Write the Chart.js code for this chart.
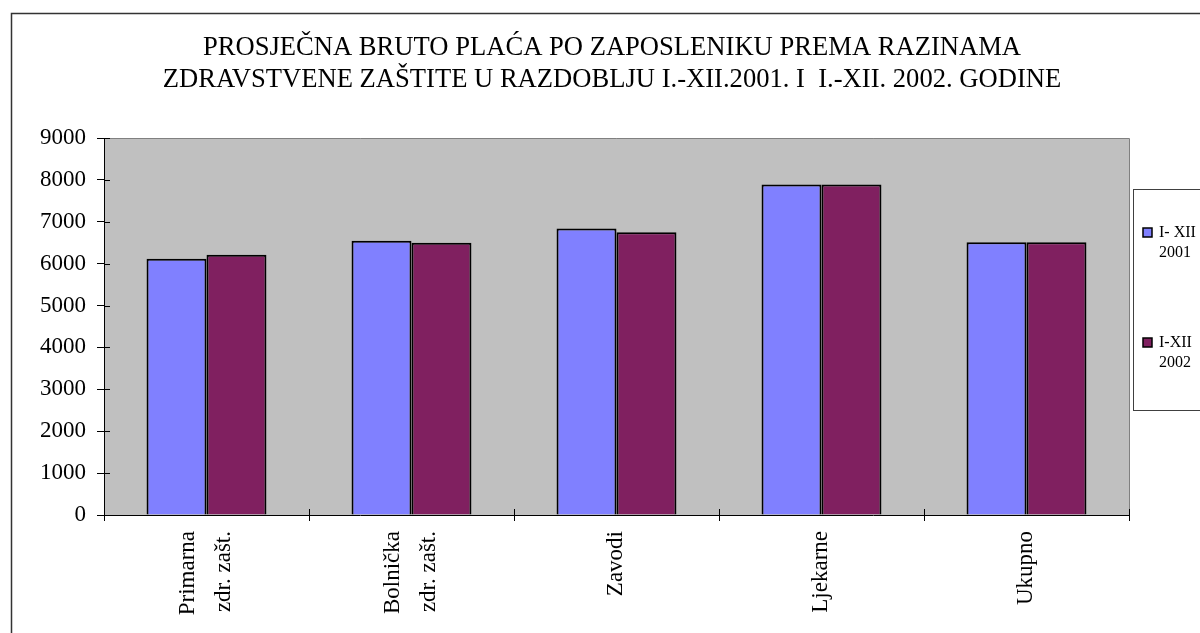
<!DOCTYPE html>
<html><head><meta charset="utf-8">
<script src="https://cdn.jsdelivr.net/npm/chart.js@4.4.0/dist/chart.umd.min.js"></script>
<style>html,body{margin:0;padding:0;background:#fff;}#wrap{width:1200px;height:633px;position:relative;}</style>
</head><body><div id="wrap"><canvas id="c" width="1200" height="633"></canvas></div>
<script>
const titleLines = ['PROSJEČNA BRUTO PLAĆA PO ZAPOSLENIKU PREMA RAZINAMA', 'ZDRAVSTVENE ZAŠTITE U RAZDOBLJU I.-XII.2001. I  I.-XII. 2002. GODINE'];
const categories = [['Primarna', 'zdr. zašt.'], ['Bolnička', 'zdr. zašt.'], ['Zavodi'], ['Ljekarne'], ['Ukupno']];
const series2001 = [6120, 6550, 6840, 7890, 6510];
const series2002 = [6210, 6500, 6750, 7890, 6510];
const seriesNames = ['I- XII 2001', 'I-XII 2002'];
const legendLines = [['I- XII', '2001'], ['I-XII', '2002']];
const yMin = 0, yMax = 9000, yStep = 1000;

const FONT = '"Liberation Serif", "Times New Roman", serif';
const colors = ['#8080FF', '#802060'];

const decor = {
  id: 'decor',
  beforeDraw(chart) {
    const ctx = chart.ctx, a = chart.chartArea;
    ctx.save();
    ctx.fillStyle = '#fff';
    ctx.fillRect(0, 0, chart.width, chart.height);
    ctx.fillStyle = '#C0C0C0';
    ctx.fillRect(a.left, a.top, a.right - a.left, a.bottom - a.top);
    ctx.strokeStyle = '#808080';
    ctx.lineWidth = 1;
    ctx.beginPath();
    ctx.moveTo(a.left, a.top + 0.5);
    ctx.lineTo(a.right + 0.5, a.top + 0.5);
    ctx.lineTo(a.right + 0.5, a.bottom);
    ctx.stroke();
    ctx.restore();
  },
  afterDraw(chart) {
    const ctx = chart.ctx, a = chart.chartArea;
    const xs = chart.scales.x, ys = chart.scales.y;
    ctx.save();
    ctx.strokeStyle = '#000';
    ctx.lineWidth = 1;
    ctx.beginPath();
    ys.ticks.forEach((t, i) => {
      const p = Math.round(ys.getPixelForTick(i)) + 0.5;
      ctx.moveTo(a.left, p); ctx.lineTo(a.left + 6, p);
    });
    const n = chart.data.labels.length;
    for (let i = 0; i <= n; i++) {
      const p = Math.round(xs.getPixelForValue(i - 0.5)) + 0.5;
      ctx.moveTo(p, a.bottom); ctx.lineTo(p, a.bottom - 6);
    }
    ctx.stroke();

    ctx.fillStyle = '#000';
    ctx.font = '23px ' + FONT;
    ctx.textAlign = 'right';
    ctx.textBaseline = 'middle';
    chart.data.labels.forEach((lab, i) => {
      const lines = Array.isArray(lab) ? lab : [lab];
      const cx = xs.getPixelForValue(i);
      lines.forEach((ln, j) => {
        const off = (j - (lines.length - 1) / 2) * 36;
        ctx.save();
        ctx.translate(cx + off - 1, a.bottom + 16);
        ctx.rotate(-Math.PI / 2);
        ctx.fillText(ln, 0, 0);
        ctx.restore();
      });
    });

    ctx.font = '26.6px ' + FONT;
    ctx.textAlign = 'center';
    ctx.textBaseline = 'alphabetic';
    ctx.fillText(titleLines[0], 612, 55);
    ctx.fillText(titleLines[1], 612, 87);

    ctx.strokeStyle = '#333';
    ctx.lineWidth = 1.5;
    ctx.strokeRect(11.5, 13.5, 1250, 700);

    ctx.fillStyle = '#fff';
    ctx.fillRect(1133, 189, 100, 221);
    ctx.strokeStyle = '#404040';
    ctx.lineWidth = 1;
    ctx.strokeRect(1133.5, 189.5, 100, 221);
    const ly = [237, 347];
    ctx.font = '16px ' + FONT;
    ctx.textAlign = 'left';
    chart.data.datasets.forEach((ds, i) => {
      ctx.fillStyle = ds.backgroundColor;
      ctx.fillRect(1143, ly[i] - 9, 9, 9);
      ctx.strokeStyle = '#000';
      ctx.lineWidth = 1.5;
      ctx.strokeRect(1143, ly[i] - 9, 9, 9);
      ctx.fillStyle = '#000';
      legendLines[i].forEach((t, j) => ctx.fillText(t, 1159, ly[i] + j * 20));
    });
    ctx.restore();
  }
};

new Chart(document.getElementById('c'), {
  type: 'bar',
  data: {
    labels: categories,
    datasets: [
      { label: seriesNames[0], data: series2001, backgroundColor: colors[0], borderColor: '#000', borderWidth: 2 },
      { label: seriesNames[1], data: series2002, backgroundColor: colors[1], borderColor: '#000', borderWidth: 2 }
    ]
  },
  options: {
    responsive: false,
    animation: false,
    devicePixelRatio: 1,
    layout: { padding: { top: 138, right: 71, bottom: 0, left: 0 } },
    plugins: { legend: { display: false }, title: { display: false }, tooltip: { enabled: false } },
    datasets: { bar: { categoryPercentage: 0.585, barPercentage: 1.0 } },
    scales: {
      x: {
        offset: true,
        grid: { display: true, offset: true, drawOnChartArea: false, drawTicks: true, tickLength: 6, color: '#000' },
        border: { display: true, color: '#000', width: 1 },
        ticks: { display: false },
        afterFit(s) { s.height = 118; }
      },
      y: {
        min: yMin, max: yMax,
        grid: { display: true, drawOnChartArea: false, drawTicks: true, tickLength: 7, color: '#000' },
        border: { display: true, color: '#000', width: 1 },
        ticks: { stepSize: yStep, color: '#000', padding: 11, font: { family: FONT, size: 23 }, callback: (v) => String(v) },
        afterFit(s) { s.width = 104; }
      }
    }
  },
  plugins: [decor]
});
</script></body></html>
